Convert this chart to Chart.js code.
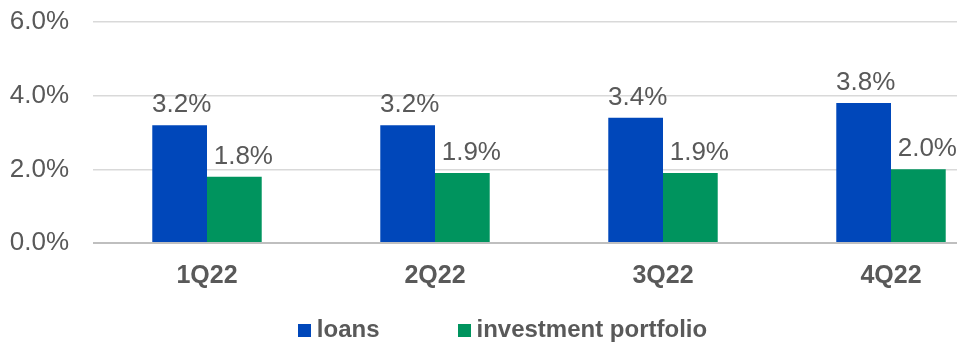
<!DOCTYPE html>
<html>
<head>
<meta charset="utf-8">
<script src="https://cdn.jsdelivr.net/npm/chart.js@4/dist/chart.umd.min.js"></script>
<style>
  html, body { margin: 0; padding: 0; background: #fff; overflow: hidden; }
  #wrap { position: relative; width: 1005px; height: 343px; }
  #legend {
    position: absolute; left: 0; top: 315px; width: 1005px;
    display: flex; justify-content: center; align-items: center;
    font: bold 24px "Liberation Sans", Arial, sans-serif; color: #595959;
  }
  #legend .item { display: flex; align-items: center; }
  #legend .item + .item { margin-left: 78px; }
  #legend .box { width: 13px; height: 13px; margin-right: 6px; margin-top: 3px; }
</style>
</head>
<body>
<div id="wrap">
  <canvas id="chart" width="1005" height="343"></canvas>
  <div id="legend"></div>
</div>
<script>
// Quarterly yields, in percent
const quarters = ['1Q22', '2Q22', '3Q22', '4Q22'];
const loans = [3.2, 3.2, 3.4, 3.8];
const investmentPortfolio = [1.8, 1.9, 1.9, 2.0];
const seriesNames = ['loans', 'investment portfolio'];
const yTicks = [0, 2, 4, 6];

const BLUE = '#0047BA';
const GREEN = '#00945E';
const TEXT = '#595959';
const FONT = '"Liberation Sans", Arial, sans-serif';

// Value labels drawn above each bar
const valueLabels = {
  id: 'valueLabels',
  afterDatasetsDraw(chart) {
    const ctx = chart.ctx;
    ctx.save();
    ctx.font = '26px ' + FONT;
    ctx.fillStyle = TEXT;
    ctx.textAlign = 'center';
    ctx.textBaseline = 'alphabetic';
    chart.data.datasets.forEach((ds, i) => {
      const meta = chart.getDatasetMeta(i);
      meta.data.forEach((bar, j) => {
        const v = ds.data[j];
        ctx.fillText(v.toFixed(1) + '%', bar.x + (ds.labelShift || 0), bar.y - 13);
      });
    });
    ctx.restore();
  }
};

new Chart(document.getElementById('chart'), {
  type: 'bar',
  data: {
    labels: quarters,
    datasets: [
      { label: seriesNames[0], data: loans, backgroundColor: BLUE, labelShift: 2,
        categoryPercentage: 0.48, barPercentage: 1.0 },
      { label: seriesNames[1], data: investmentPortfolio, backgroundColor: GREEN, labelShift: 9,
        categoryPercentage: 0.48, barPercentage: 1.0 }
    ]
  },
  options: {
    responsive: false,
    animation: false,
    layout: { padding: { top: 22, right: 0, bottom: 0, left: 0 } },
    plugins: {
      legend: { display: false },
      tooltip: { enabled: false }
    },
    scales: {
      x: {
        grid: { display: false },
        border: { display: false },
        ticks: { color: TEXT, font: { family: FONT, size: 25, weight: 'bold' }, padding: 10 },
        afterFit(scale) { scale.height = 100; }
      },
      y: {
        min: 0, max: 6,
        afterBuildTicks(scale) { scale.ticks = yTicks.map(v => ({ value: v })); },
        ticks: {
          color: TEXT, font: { family: FONT, size: 26 }, padding: 24,
          callback: v => v.toFixed(1) + '%'
        },
        grid: {
          drawTicks: false,
          color: ctx => ctx.tick && ctx.tick.value === 0 ? '#bfbfbf' : '#d9d9d9',
          lineWidth: ctx => ctx.tick && ctx.tick.value === 0 ? 2 : 1.5
        },
        border: { display: false },
        afterFit(scale) {
          scale.width = 93;
          scale.paddingTop = 0;
          scale.paddingBottom = 0;
        }
      }
    }
  },
  plugins: [valueLabels]
});

// Legend entries
const legend = document.getElementById('legend');
[BLUE, GREEN].forEach((c, i) => {
  const item = document.createElement('div');
  item.className = 'item';
  const box = document.createElement('span');
  box.className = 'box';
  box.style.background = c;
  const txt = document.createElement('span');
  txt.textContent = seriesNames[i];
  item.appendChild(box);
  item.appendChild(txt);
  legend.appendChild(item);
});
</script>
</body>
</html>
